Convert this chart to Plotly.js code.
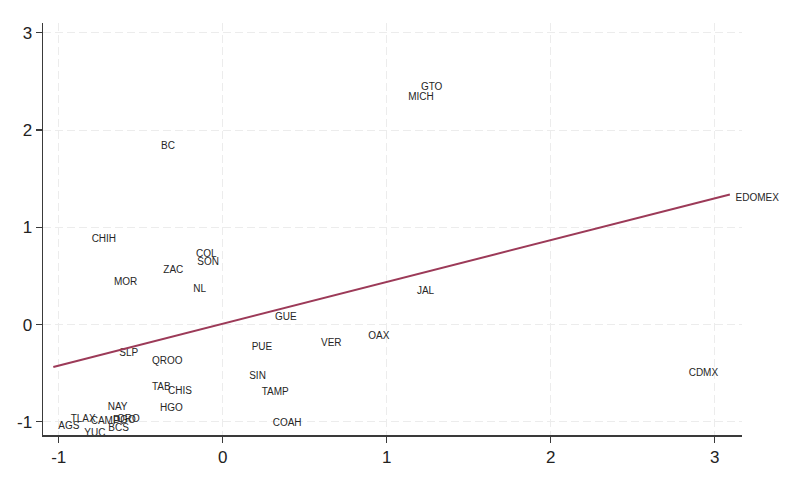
<!DOCTYPE html>
<html>
<head>
<meta charset="utf-8">
<script src="https://cdn.plot.ly/plotly-3.0.1.min.js"></script>
<style>
  html, body { margin: 0; padding: 0; background: #ffffff; }
  #chart { width: 800px; height: 488px; }
</style>
</head>
<body>
<div id="chart"></div>
<script>
// State labels with estimated x / y coordinates
const states = ["GTO","MICH","BC","CHIH","COL","SON","ZAC","MOR","NL","GUE","JAL","OAX","VER","PUE","SIN","TAMP","COAH","CDMX","EDOMEX","SLP","QROO","TAB","CHIS","HGO","NAY","TLAX","AGS","CAMP","DGO","QRO","BCS","YUC"];
const xValues = [1.174,1.097,-0.411,-0.834,-0.198,-0.190,-0.397,-0.698,-0.214,0.284,1.150,0.853,0.565,0.142,0.127,0.203,0.270,2.807,3.093,-0.665,-0.466,-0.466,-0.368,-0.417,-0.736,-0.962,-1.037,-0.840,-0.704,-0.679,-0.732,-0.879];
const yValues = [2.440,2.338,1.834,0.874,0.720,0.634,0.559,0.435,0.360,0.075,0.343,-0.120,-0.199,-0.240,-0.534,-0.696,-1.015,-0.504,1.292,-0.298,-0.384,-0.644,-0.686,-0.863,-0.850,-0.977,-1.045,-0.994,-0.989,-0.979,-1.063,-1.123];

// Fitted line endpoints
const fitX = [-1.033, 3.093];
const fitY = [-0.436, 1.337];

// Tick values
const xTicks = [-1, 0, 1, 2, 3];
const yTicks = [-1, 0, 1, 2, 3];

const axisColor = "#3a3a3a";
const gridColor = "#ececec";

const traces = [
  {
    type: "scatter",
    mode: "markers+text",
    x: xValues,
    y: yValues,
    text: states,
    textposition: "middle right",
    marker: { size: 7.5, color: "rgba(0,0,0,0)" },
    textfont: { family: "Liberation Sans, Arial, sans-serif", size: 10, color: "#262626" },
    hoverinfo: "text",
    showlegend: false,
    cliponaxis: false
  },
  {
    type: "scatter",
    mode: "lines",
    x: fitX,
    y: fitY,
    line: { color: "#9c3a58", width: 2 },
    hoverinfo: "skip",
    showlegend: false
  }
];

const layout = {
  width: 800,
  height: 488,
  margin: { l: 43, r: 58, t: 23, b: 53, pad: 0 },
  paper_bgcolor: "#ffffff",
  plot_bgcolor: "#ffffff",
  font: { family: "Liberation Sans, Arial, sans-serif", color: "#222222" },
  showlegend: false,
  xaxis: {
    range: [-1.096, 3.167],
    tickvals: xTicks,
    ticktext: xTicks.map(String),
    ticks: "outside",
    ticklen: 6,
    tickwidth: 1.2,
    tickcolor: axisColor,
    showline: true,
    linecolor: axisColor,
    linewidth: 1.5,
    showgrid: true,
    gridcolor: gridColor,
    griddash: "8px,4px",
    gridwidth: 1,
    zeroline: false,
    tickfont: { size: 17, color: "#222222" },
    mirror: false
  },
  yaxis: {
    range: [-1.135, 3.10],
    tickvals: yTicks,
    ticktext: yTicks.map(String),
    ticks: "outside",
    ticklen: 6,
    tickwidth: 1.2,
    tickcolor: axisColor,
    showline: true,
    linecolor: axisColor,
    linewidth: 1.5,
    showgrid: true,
    gridcolor: gridColor,
    griddash: "8px,4px",
    gridwidth: 1,
    zeroline: false,
    tickfont: { size: 17, color: "#222222" },
    mirror: false
  }
};

Plotly.newPlot("chart", traces, layout, { displayModeBar: false, staticPlot: true });
</script>
</body>
</html>
